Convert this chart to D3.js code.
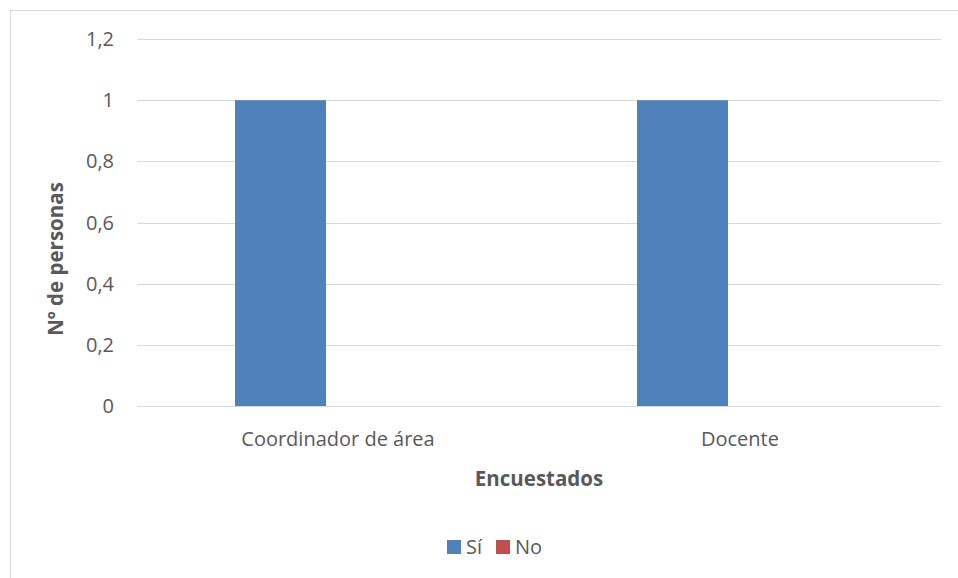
<!DOCTYPE html>
<html>
<head>
<meta charset="utf-8">
<title>Encuestados</title>
<style>
  body { margin: 0; background: #fff; }
  text { font-family: "Open Sans", "Liberation Sans", sans-serif; fill: #595959; }
  .grid line { stroke: #d9d9d9; stroke-width: 1px; }
  .axis-title { font-weight: bold; font-size: 20.5px; }
  .lbl { font-size: 20px; }
</style>
</head>
<body>
<svg width="958" height="578"></svg>
<script src="https://d3js.org/d3.v7.min.js"></script>
<script>
  // data
  var categories = ["Coordinador de área", "Docente"];
  var seriesNames = ["Sí", "No"];
  var siValues = [1, 1];
  var noValues = [0, 0];
  var yTicks = [0, 0.2, 0.4, 0.6, 0.8, 1, 1.2];
  var colors = ["#4f81bd", "#c0504d"];

  var svg = d3.select("svg");

  // outer chart border (cropped at right / bottom)
  svg.append("rect")
      .attr("x", 10.5).attr("y", 10.5)
      .attr("width", 960).attr("height", 580)
      .attr("fill", "#fff")
      .attr("stroke", "#d9d9d9");

  var plotLeft = 137, plotRight = 941, plotTop = 39, plotBottom = 406;

  var y = d3.scaleLinear().domain([0, 1.2]).range([plotBottom, plotTop]);
  var x0 = d3.scaleBand().domain(categories).range([plotLeft, plotRight])
      .paddingInner(0.4876).paddingOuter(0.2438);
  var x1 = d3.scaleBand().domain(seriesNames).range([0, x0.bandwidth()])
      .paddingInner(0.209);

  var fmt = function(d) { return String(+d.toFixed(1)).replace(".", ","); };

  // gridlines
  svg.append("g").attr("class", "grid")
    .selectAll("line").data(yTicks).enter().append("line")
      .attr("x1", plotLeft).attr("x2", plotRight)
      .attr("y1", function(d) { return Math.round(y(d)) + 0.5; })
      .attr("y2", function(d) { return Math.round(y(d)) + 0.5; });

  // y tick labels
  svg.append("g").selectAll("text").data(yTicks).enter().append("text")
      .attr("class", "lbl")
      .attr("x", 114).attr("y", function(d) { return y(d); })
      .attr("dy", "0.35em")
      .attr("text-anchor", "end")
      .text(fmt);

  // bars
  var rows = categories.map(function(c, i) {
    return { cat: c, vals: [siValues[i], noValues[i]] };
  });
  var groups = svg.append("g").selectAll("g").data(rows).enter().append("g")
      .attr("transform", function(d) { return "translate(" + x0(d.cat) + ",0)"; });
  groups.selectAll("rect")
      .data(function(d) { return d.vals.map(function(v, j) { return { s: seriesNames[j], v: v, c: colors[j] }; }); })
      .enter().append("rect")
      .attr("x", function(d) { return x1(d.s); })
      .attr("width", x1.bandwidth())
      .attr("y", function(d) { return y(d.v); })
      .attr("height", function(d) { return y(0) - y(d.v); })
      .attr("fill", function(d) { return d.c; });

  // category labels
  svg.append("g").selectAll("text").data(categories).enter().append("text")
      .attr("class", "lbl")
      .attr("x", function(d) { return x0(d) + x0.bandwidth() / 2; })
      .attr("y", 446)
      .attr("text-anchor", "middle")
      .text(function(d) { return d; });

  // axis titles
  svg.append("text").attr("class", "axis-title")
      .attr("x", 539).attr("y", 486)
      .attr("text-anchor", "middle")
      .text("Encuestados");
  svg.append("text").attr("class", "axis-title")
      .attr("transform", "translate(63,259) rotate(-90)")
      .attr("text-anchor", "middle")
      .text("Nº de personas");

  // legend
  var legend = svg.append("g").attr("transform", "translate(447,547)");
  var lx = [0, 49];
  seriesNames.forEach(function(n, i) {
    legend.append("rect").attr("x", lx[i]).attr("y", -7)
        .attr("width", 14).attr("height", 14).attr("fill", colors[i]);
    legend.append("text").attr("class", "lbl")
        .attr("x", lx[i] + 19).attr("y", 7)
        .text(n);
  });
</script>
</body>
</html>
